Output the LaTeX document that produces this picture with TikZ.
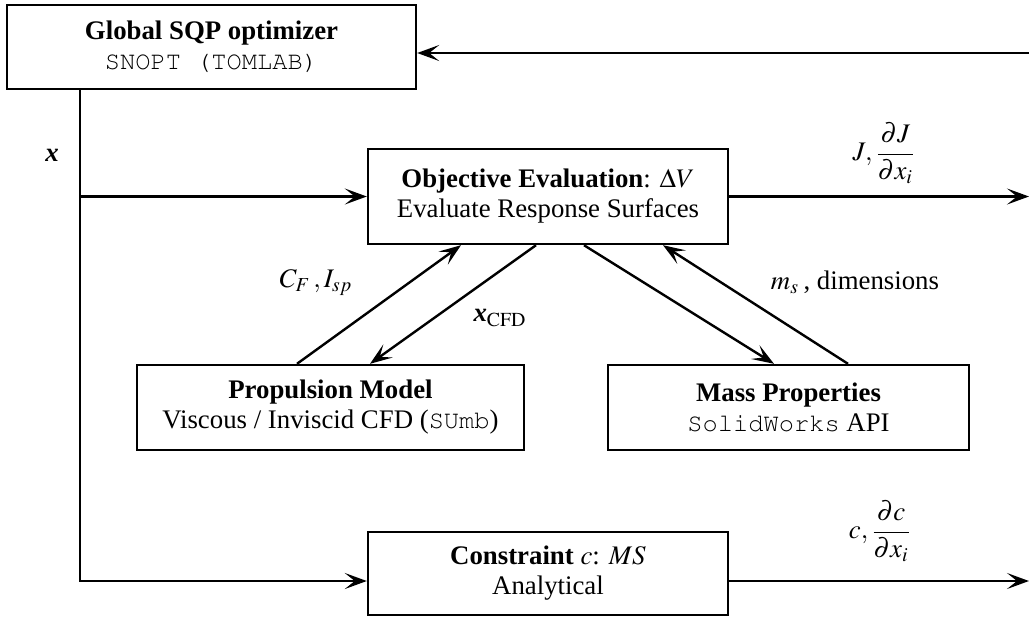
\documentclass[tikz,border=0pt]{standalone}
\usepackage{mathptmx}
\usepackage{amsmath}
\usepackage{fontspec}
\setmainfont{Liberation Serif}
\usetikzlibrary{arrows.meta}
\newcommand{\cour}[1]{{\fontencoding{T1}\fontfamily{pcr}\fontsize{12.7}{15}\selectfont #1}}

\begin{document}
\begin{tikzpicture}[x=0.5pt,y=-0.5pt,
  font=\fontsize{13.4}{15}\selectfont,
  block/.style={draw,line width=1.2pt,rectangle,inner sep=0pt,align=center},
  flow/.style={-{Stealth[length=11pt,width=8pt,inset=5pt]},line width=1.2pt}]

\useasboundingbox (0,0) rectangle (1029,617);

% blocks
\node (opt) at (211.5,47)[block,minimum width=204.5pt,minimum height=42pt] {\textbf{Global SQP optimizer}\\\cour{SNOPT (TOMLAB)}};
\node (obj) at (548,196.5)[block,minimum width=180pt,minimum height=47.5pt] {\textbf{Objective Evaluation}: $\Delta V$\\Evaluate Response Surfaces};
\node (prop) at (330.5,407.5)[block,minimum width=193.5pt,minimum height=42.5pt] {\textbf{Propulsion Model}\\Viscous / Inviscid CFD (\cour{SUmb})};
\node (mass) at (788.5,407.5)[block,minimum width=180.5pt,minimum height=42.5pt] {\textbf{Mass Properties}\\\cour{SolidWorks} API};
\node (con) at (548,573.5)[block,minimum width=180pt,minimum height=41.5pt] {\textbf{Constraint} $c$: $MS$\\Analytical};

% free ends
\coordinate (split) at (80,581);
\coordinate (fb) at (1029,53);
\coordinate (jout) at (1029,197);
\coordinate (cout) at (1029,581);

% labels
\node (xlab) at (52,155) {\textbf{\textit{x}}};
\node (cflab) at (316,283) {$C_F\,, I_{sp}$};
\node (xcfd) at (500,318) {$\mbox{\textbf{\textit{x}}}_{\mathrm{CFD}}$};
\node (mslab) at (855,282) {$m_s$\,, dimensions};
\node (jlab) at (884,153) {$J,\dfrac{\partial J}{\partial x_i}$};
\node (clab) at (880,531) {$c,\dfrac{\partial c}{\partial x_i}$};

% connectors
\draw [flow] (opt.south -| split) -- (split) -- (split -| con.west);
\draw [flow] (split |- obj.west) -- (obj.west);
\draw [flow] (fb) -- (fb -| opt.east);
\draw [flow] (obj.east) -- (obj.east -| jout);
\draw [flow] (con.east |- split) -- (cout);
\draw [flow] ([xshift=-16.75pt]prop.north) -- ([xshift=-43.5pt]obj.south);
\draw [flow] ([xshift=-6pt]obj.south) -- ([xshift=19.75pt]prop.north);
\draw [flow] ([xshift=18pt]obj.south) -- ([xshift=-7.25pt]mass.north);
\draw [flow] ([xshift=29.75pt]mass.north) -- ([xshift=57.5pt]obj.south);
\end{tikzpicture}
\end{document}
